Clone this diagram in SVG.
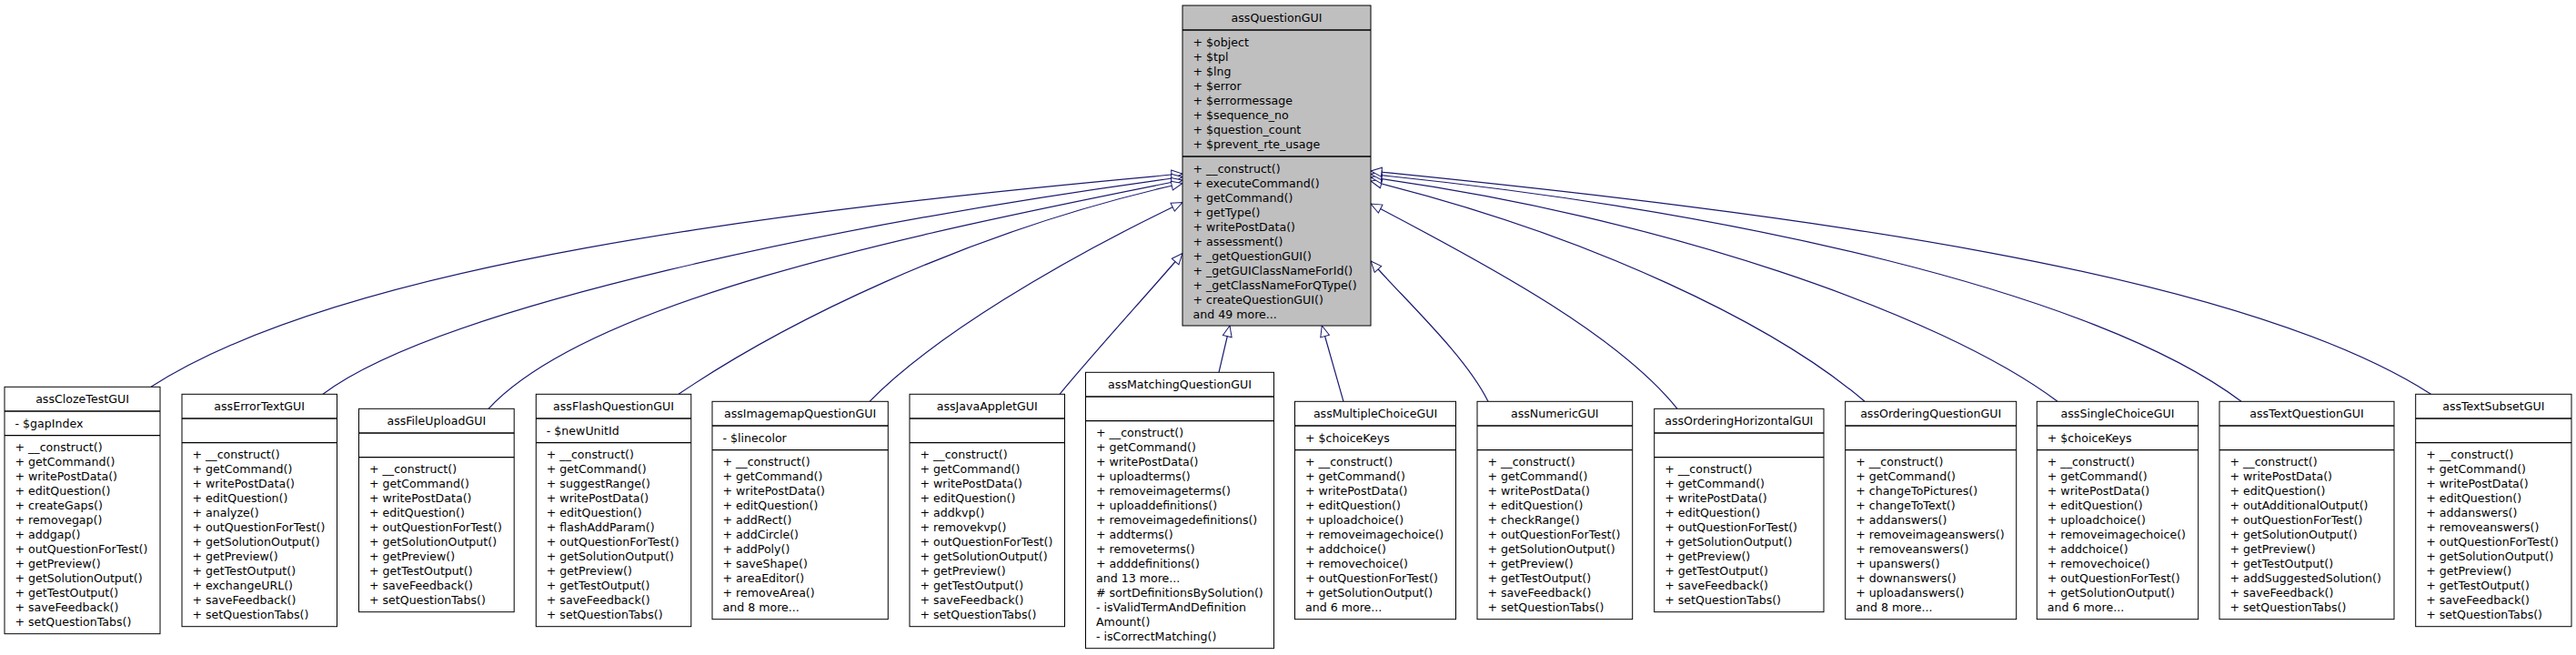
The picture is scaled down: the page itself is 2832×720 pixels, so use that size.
<svg xmlns="http://www.w3.org/2000/svg" width="2832" height="720" viewBox="0 0 2832 720">
<style>
.n{fill:#fff;stroke:#000;stroke-width:1}
.m{fill:#bfbfbf;stroke:#000;stroke-width:1}
.s{fill:none;stroke:#000;stroke-width:1.3}
text{font-family:"DejaVu Sans","Liberation Sans",sans-serif;font-size:12.6px;fill:#000}
.c{text-anchor:middle}
.e{fill:none;stroke:#191970;stroke-width:1.2;marker-end:url(#arr)}
</style>
<defs>
<marker id="arr" markerUnits="userSpaceOnUse" markerWidth="16" markerHeight="12" refX="12" refY="5" orient="auto" overflow="visible">
<path d="M0,0 L12,5 L0,10 Z" fill="#fff" stroke="#191970" stroke-width="1"/>
</marker>
</defs>
<rect width="2832" height="720" fill="#fff"/>

<g id="edges">
<path class="e" d="M166,425.3 C376,290 852,231.5 1300,191"/>
<path class="e" d="M355,433.3 C483,337 924,245.5 1300,194.5"/>
<path class="e" d="M537,449.3 C646,332 986,260.5 1300,198"/>
<path class="e" d="M746,433.3 C854,360 1056,256 1300,201.5"/>
<path class="e" d="M956,441.3 C1026,370 1165,287 1300,222.5"/>
<path class="e" d="M1165,433.3 C1205,385 1255,330.5 1300,278.5"/>
<path class="e" d="M1340,409.3 L1352,358"/>
<path class="e" d="M1477,441.3 L1453.3,358"/>
<path class="e" d="M1636,441.3 C1611,391 1547,332 1507,287"/>
<path class="e" d="M1844,449.3 C1781,371 1649,298 1507,224"/>
<path class="e" d="M2050,441.3 C1951,356.5 1749,259 1507,199"/>
<path class="e" d="M2262,441.3 C2134,345 1824,238 1507,195"/>
<path class="e" d="M2464,441.3 C2304,321 1905,231.5 1507,191.5"/>
<path class="e" d="M2672.5,433.3 C2462,298 1975,235 1507,188"/>
</g>

<g id="assQuestionGUI">
<rect class="m" x="1300" y="6" width="207" height="352"/>
<path class="s" d="M1300,33 H1507 M1300,172 H1507"/>
<text class="c" x="1403.5" y="24">assQuestionGUI</text>
<text x="1311.5" y="51">+ $object<tspan x="1311.5" dy="16">+ $tpl</tspan><tspan x="1311.5" dy="16">+ $lng</tspan><tspan x="1311.5" dy="16">+ $error</tspan><tspan x="1311.5" dy="16">+ $errormessage</tspan><tspan x="1311.5" dy="16">+ $sequence_no</tspan><tspan x="1311.5" dy="16">+ $question_count</tspan><tspan x="1311.5" dy="16">+ $prevent_rte_usage</tspan></text>
<text x="1311.5" y="189.6">+ __construct()<tspan x="1311.5" dy="16">+ executeCommand()</tspan><tspan x="1311.5" dy="16">+ getCommand()</tspan><tspan x="1311.5" dy="16">+ getType()</tspan><tspan x="1311.5" dy="16">+ writePostData()</tspan><tspan x="1311.5" dy="16">+ assessment()</tspan><tspan x="1311.5" dy="16">+ _getQuestionGUI()</tspan><tspan x="1311.5" dy="16">+ _getGUIClassNameForId()</tspan><tspan x="1311.5" dy="16">+ _getClassNameForQType()</tspan><tspan x="1311.5" dy="16">+ createQuestionGUI()</tspan><tspan x="1311.5" dy="16">and 49 more...</tspan></text>
</g>

<g id="assClozeTestGUI">
<rect class="n" x="5" y="425.3" width="171" height="271.4"/>
<path class="s" d="M5,452 H176 M5,478.7 H176"/>
<text class="c" x="90.5" y="443.3">assClozeTestGUI</text>
<text x="16.5" y="470">- $gapIndex</text>
<text x="16.5" y="496.3">+ __construct()<tspan x="16.5" dy="16">+ getCommand()</tspan><tspan x="16.5" dy="16">+ writePostData()</tspan><tspan x="16.5" dy="16">+ editQuestion()</tspan><tspan x="16.5" dy="16">+ createGaps()</tspan><tspan x="16.5" dy="16">+ removegap()</tspan><tspan x="16.5" dy="16">+ addgap()</tspan><tspan x="16.5" dy="16">+ outQuestionForTest()</tspan><tspan x="16.5" dy="16">+ getPreview()</tspan><tspan x="16.5" dy="16">+ getSolutionOutput()</tspan><tspan x="16.5" dy="16">+ getTestOutput()</tspan><tspan x="16.5" dy="16">+ saveFeedback()</tspan><tspan x="16.5" dy="16">+ setQuestionTabs()</tspan></text>
</g>

<g id="assErrorTextGUI">
<rect class="n" x="200" y="433.3" width="170.5" height="255.4"/>
<path class="s" d="M200,460 H370.5 M200,486.7 H370.5"/>
<text class="c" x="285.2" y="451.3">assErrorTextGUI</text>
<text x="211.5" y="504.3">+ __construct()<tspan x="211.5" dy="16">+ getCommand()</tspan><tspan x="211.5" dy="16">+ writePostData()</tspan><tspan x="211.5" dy="16">+ editQuestion()</tspan><tspan x="211.5" dy="16">+ analyze()</tspan><tspan x="211.5" dy="16">+ outQuestionForTest()</tspan><tspan x="211.5" dy="16">+ getSolutionOutput()</tspan><tspan x="211.5" dy="16">+ getPreview()</tspan><tspan x="211.5" dy="16">+ getTestOutput()</tspan><tspan x="211.5" dy="16">+ exchangeURL()</tspan><tspan x="211.5" dy="16">+ saveFeedback()</tspan><tspan x="211.5" dy="16">+ setQuestionTabs()</tspan></text>
</g>

<g id="assFileUploadGUI">
<rect class="n" x="394.5" y="449.3" width="170.7" height="223.4"/>
<path class="s" d="M394.5,476 H565.2 M394.5,502.7 H565.2"/>
<text class="c" x="479.8" y="467.3">assFileUploadGUI</text>
<text x="406" y="520.3">+ __construct()<tspan x="406" dy="16">+ getCommand()</tspan><tspan x="406" dy="16">+ writePostData()</tspan><tspan x="406" dy="16">+ editQuestion()</tspan><tspan x="406" dy="16">+ outQuestionForTest()</tspan><tspan x="406" dy="16">+ getSolutionOutput()</tspan><tspan x="406" dy="16">+ getPreview()</tspan><tspan x="406" dy="16">+ getTestOutput()</tspan><tspan x="406" dy="16">+ saveFeedback()</tspan><tspan x="406" dy="16">+ setQuestionTabs()</tspan></text>
</g>

<g id="assFlashQuestionGUI">
<rect class="n" x="589.3" y="433.3" width="170.5" height="255.4"/>
<path class="s" d="M589.3,460 H759.8 M589.3,486.7 H759.8"/>
<text class="c" x="674.5" y="451.3">assFlashQuestionGUI</text>
<text x="600.8" y="478">- $newUnitId</text>
<text x="600.8" y="504.3">+ __construct()<tspan x="600.8" dy="16">+ getCommand()</tspan><tspan x="600.8" dy="16">+ suggestRange()</tspan><tspan x="600.8" dy="16">+ writePostData()</tspan><tspan x="600.8" dy="16">+ editQuestion()</tspan><tspan x="600.8" dy="16">+ flashAddParam()</tspan><tspan x="600.8" dy="16">+ outQuestionForTest()</tspan><tspan x="600.8" dy="16">+ getSolutionOutput()</tspan><tspan x="600.8" dy="16">+ getPreview()</tspan><tspan x="600.8" dy="16">+ getTestOutput()</tspan><tspan x="600.8" dy="16">+ saveFeedback()</tspan><tspan x="600.8" dy="16">+ setQuestionTabs()</tspan></text>
</g>

<g id="assImagemapQuestionGUI">
<rect class="n" x="783" y="441.3" width="193.3" height="239.4"/>
<path class="s" d="M783,468 H976.3 M783,494.7 H976.3"/>
<text class="c" x="879.6" y="459.3">assImagemapQuestionGUI</text>
<text x="794.5" y="486">- $linecolor</text>
<text x="794.5" y="512.3">+ __construct()<tspan x="794.5" dy="16">+ getCommand()</tspan><tspan x="794.5" dy="16">+ writePostData()</tspan><tspan x="794.5" dy="16">+ editQuestion()</tspan><tspan x="794.5" dy="16">+ addRect()</tspan><tspan x="794.5" dy="16">+ addCircle()</tspan><tspan x="794.5" dy="16">+ addPoly()</tspan><tspan x="794.5" dy="16">+ saveShape()</tspan><tspan x="794.5" dy="16">+ areaEditor()</tspan><tspan x="794.5" dy="16">+ removeArea()</tspan><tspan x="794.5" dy="16">and 8 more...</tspan></text>
</g>

<g id="assJavaAppletGUI">
<rect class="n" x="1000" y="433.3" width="170.5" height="255.4"/>
<path class="s" d="M1000,460 H1170.5 M1000,486.7 H1170.5"/>
<text class="c" x="1085.2" y="451.3">assJavaAppletGUI</text>
<text x="1011.5" y="504.3">+ __construct()<tspan x="1011.5" dy="16">+ getCommand()</tspan><tspan x="1011.5" dy="16">+ writePostData()</tspan><tspan x="1011.5" dy="16">+ editQuestion()</tspan><tspan x="1011.5" dy="16">+ addkvp()</tspan><tspan x="1011.5" dy="16">+ removekvp()</tspan><tspan x="1011.5" dy="16">+ outQuestionForTest()</tspan><tspan x="1011.5" dy="16">+ getSolutionOutput()</tspan><tspan x="1011.5" dy="16">+ getPreview()</tspan><tspan x="1011.5" dy="16">+ getTestOutput()</tspan><tspan x="1011.5" dy="16">+ saveFeedback()</tspan><tspan x="1011.5" dy="16">+ setQuestionTabs()</tspan></text>
</g>

<g id="assMatchingQuestionGUI">
<rect class="n" x="1193.5" y="409.3" width="207" height="303.4"/>
<path class="s" d="M1193.5,436 H1400.5 M1193.5,462.7 H1400.5"/>
<text class="c" x="1297" y="427.3">assMatchingQuestionGUI</text>
<text x="1205" y="480.3">+ __construct()<tspan x="1205" dy="16">+ getCommand()</tspan><tspan x="1205" dy="16">+ writePostData()</tspan><tspan x="1205" dy="16">+ uploadterms()</tspan><tspan x="1205" dy="16">+ removeimageterms()</tspan><tspan x="1205" dy="16">+ uploaddefinitions()</tspan><tspan x="1205" dy="16">+ removeimagedefinitions()</tspan><tspan x="1205" dy="16">+ addterms()</tspan><tspan x="1205" dy="16">+ removeterms()</tspan><tspan x="1205" dy="16">+ adddefinitions()</tspan><tspan x="1205" dy="16">and 13 more...</tspan><tspan x="1205" dy="16"># sortDefinitionsBySolution()</tspan><tspan x="1205" dy="16">- isValidTermAndDefinition</tspan><tspan x="1205" dy="16">Amount()</tspan><tspan x="1205" dy="16">- isCorrectMatching()</tspan></text>
</g>

<g id="assMultipleChoiceGUI">
<rect class="n" x="1423.5" y="441.3" width="177" height="239.4"/>
<path class="s" d="M1423.5,468 H1600.5 M1423.5,494.7 H1600.5"/>
<text class="c" x="1512" y="459.3">assMultipleChoiceGUI</text>
<text x="1435" y="486">+ $choiceKeys</text>
<text x="1435" y="512.3">+ __construct()<tspan x="1435" dy="16">+ getCommand()</tspan><tspan x="1435" dy="16">+ writePostData()</tspan><tspan x="1435" dy="16">+ editQuestion()</tspan><tspan x="1435" dy="16">+ uploadchoice()</tspan><tspan x="1435" dy="16">+ removeimagechoice()</tspan><tspan x="1435" dy="16">+ addchoice()</tspan><tspan x="1435" dy="16">+ removechoice()</tspan><tspan x="1435" dy="16">+ outQuestionForTest()</tspan><tspan x="1435" dy="16">+ getSolutionOutput()</tspan><tspan x="1435" dy="16">and 6 more...</tspan></text>
</g>

<g id="assNumericGUI">
<rect class="n" x="1624" y="441.3" width="170.7" height="239.4"/>
<path class="s" d="M1624,468 H1794.7 M1624,494.7 H1794.7"/>
<text class="c" x="1709.3" y="459.3">assNumericGUI</text>
<text x="1635.5" y="512.3">+ __construct()<tspan x="1635.5" dy="16">+ getCommand()</tspan><tspan x="1635.5" dy="16">+ writePostData()</tspan><tspan x="1635.5" dy="16">+ editQuestion()</tspan><tspan x="1635.5" dy="16">+ checkRange()</tspan><tspan x="1635.5" dy="16">+ outQuestionForTest()</tspan><tspan x="1635.5" dy="16">+ getSolutionOutput()</tspan><tspan x="1635.5" dy="16">+ getPreview()</tspan><tspan x="1635.5" dy="16">+ getTestOutput()</tspan><tspan x="1635.5" dy="16">+ saveFeedback()</tspan><tspan x="1635.5" dy="16">+ setQuestionTabs()</tspan></text>
</g>

<g id="assOrderingHorizontalGUI">
<rect class="n" x="1818.7" y="449.3" width="186.3" height="223.4"/>
<path class="s" d="M1818.7,476 H2005 M1818.7,502.7 H2005"/>
<text class="c" x="1911.8" y="467.3">assOrderingHorizontalGUI</text>
<text x="1830.2" y="520.3">+ __construct()<tspan x="1830.2" dy="16">+ getCommand()</tspan><tspan x="1830.2" dy="16">+ writePostData()</tspan><tspan x="1830.2" dy="16">+ editQuestion()</tspan><tspan x="1830.2" dy="16">+ outQuestionForTest()</tspan><tspan x="1830.2" dy="16">+ getSolutionOutput()</tspan><tspan x="1830.2" dy="16">+ getPreview()</tspan><tspan x="1830.2" dy="16">+ getTestOutput()</tspan><tspan x="1830.2" dy="16">+ saveFeedback()</tspan><tspan x="1830.2" dy="16">+ setQuestionTabs()</tspan></text>
</g>

<g id="assOrderingQuestionGUI">
<rect class="n" x="2028.7" y="441.3" width="188" height="239.4"/>
<path class="s" d="M2028.7,468 H2216.7 M2028.7,494.7 H2216.7"/>
<text class="c" x="2122.7" y="459.3">assOrderingQuestionGUI</text>
<text x="2040.2" y="512.3">+ __construct()<tspan x="2040.2" dy="16">+ getCommand()</tspan><tspan x="2040.2" dy="16">+ changeToPictures()</tspan><tspan x="2040.2" dy="16">+ changeToText()</tspan><tspan x="2040.2" dy="16">+ addanswers()</tspan><tspan x="2040.2" dy="16">+ removeimageanswers()</tspan><tspan x="2040.2" dy="16">+ removeanswers()</tspan><tspan x="2040.2" dy="16">+ upanswers()</tspan><tspan x="2040.2" dy="16">+ downanswers()</tspan><tspan x="2040.2" dy="16">+ uploadanswers()</tspan><tspan x="2040.2" dy="16">and 8 more...</tspan></text>
</g>

<g id="assSingleChoiceGUI">
<rect class="n" x="2239.3" y="441.3" width="177.4" height="239.4"/>
<path class="s" d="M2239.3,468 H2416.7 M2239.3,494.7 H2416.7"/>
<text class="c" x="2328" y="459.3">assSingleChoiceGUI</text>
<text x="2250.8" y="486">+ $choiceKeys</text>
<text x="2250.8" y="512.3">+ __construct()<tspan x="2250.8" dy="16">+ getCommand()</tspan><tspan x="2250.8" dy="16">+ writePostData()</tspan><tspan x="2250.8" dy="16">+ editQuestion()</tspan><tspan x="2250.8" dy="16">+ uploadchoice()</tspan><tspan x="2250.8" dy="16">+ removeimagechoice()</tspan><tspan x="2250.8" dy="16">+ addchoice()</tspan><tspan x="2250.8" dy="16">+ removechoice()</tspan><tspan x="2250.8" dy="16">+ outQuestionForTest()</tspan><tspan x="2250.8" dy="16">+ getSolutionOutput()</tspan><tspan x="2250.8" dy="16">and 6 more...</tspan></text>
</g>

<g id="assTextQuestionGUI">
<rect class="n" x="2440" y="441.3" width="192" height="239.4"/>
<path class="s" d="M2440,468 H2632 M2440,494.7 H2632"/>
<text class="c" x="2536" y="459.3">assTextQuestionGUI</text>
<text x="2451.5" y="512.3">+ __construct()<tspan x="2451.5" dy="16">+ writePostData()</tspan><tspan x="2451.5" dy="16">+ editQuestion()</tspan><tspan x="2451.5" dy="16">+ outAdditionalOutput()</tspan><tspan x="2451.5" dy="16">+ outQuestionForTest()</tspan><tspan x="2451.5" dy="16">+ getSolutionOutput()</tspan><tspan x="2451.5" dy="16">+ getPreview()</tspan><tspan x="2451.5" dy="16">+ getTestOutput()</tspan><tspan x="2451.5" dy="16">+ addSuggestedSolution()</tspan><tspan x="2451.5" dy="16">+ saveFeedback()</tspan><tspan x="2451.5" dy="16">+ setQuestionTabs()</tspan></text>
</g>

<g id="assTextSubsetGUI">
<rect class="n" x="2655.7" y="433.3" width="171.3" height="255.4"/>
<path class="s" d="M2655.7,460 H2827 M2655.7,486.7 H2827"/>
<text class="c" x="2741.3" y="451.3">assTextSubsetGUI</text>
<text x="2667.2" y="504.3">+ __construct()<tspan x="2667.2" dy="16">+ getCommand()</tspan><tspan x="2667.2" dy="16">+ writePostData()</tspan><tspan x="2667.2" dy="16">+ editQuestion()</tspan><tspan x="2667.2" dy="16">+ addanswers()</tspan><tspan x="2667.2" dy="16">+ removeanswers()</tspan><tspan x="2667.2" dy="16">+ outQuestionForTest()</tspan><tspan x="2667.2" dy="16">+ getSolutionOutput()</tspan><tspan x="2667.2" dy="16">+ getPreview()</tspan><tspan x="2667.2" dy="16">+ getTestOutput()</tspan><tspan x="2667.2" dy="16">+ saveFeedback()</tspan><tspan x="2667.2" dy="16">+ setQuestionTabs()</tspan></text>
</g>
</svg>
